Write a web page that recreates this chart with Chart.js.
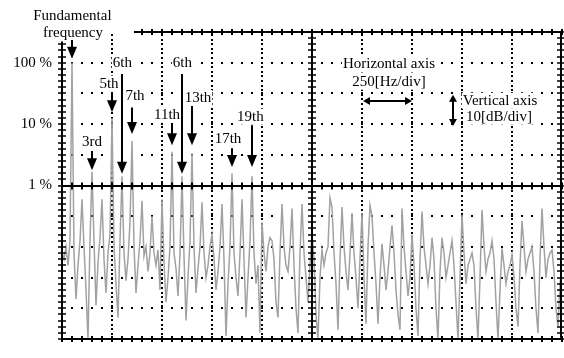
<!DOCTYPE html>
<html>
<head>
<meta charset="utf-8">
<title>Harmonic spectrum</title>
<script src="https://cdn.jsdelivr.net/npm/chart.js@4.4.1/dist/chart.umd.min.js"></script>
<style>
    html, body { margin: 0; padding: 0; background: #fff; }
    #chart { display: block; }
</style>
</head>
<body>
<canvas id="chart" width="564" height="358"></canvas>
<script>
// Spectrum
// level in dB relative to the fundamental (100 % = 0 dB), one sample every 10 Hz from 0 Hz
const stepHz = 10;
const levelDb = [
    -62, -64, -60, -66, -58,
    0, -62, -77, -66, -58,
    -44.5, -60, -74, -90, -58,
    -35.5, -58, -79, -65, -57,
    -44.5, -64, -75, -62, -56,
    -18, -60, -72, -83, -58,
    -37, -62, -71, -64, -52,
    -25.5, -60, -75, -66, -58,
    -45, -63, -60, -68, -62,
    -50, -62, -66, -61, -74,
    -44.5, -65, -78, -70, -60,
    -29, -62, -67, -76, -62,
    -37, -63, -84, -70, -58,
    -29.5, -60, -75, -67, -60,
    -45.5, -62, -70, -66, -60,
    -56, -64, -74, -68, -60,
    -46, -64, -89, -72, -60,
    -36, -62, -70, -76, -62,
    -44.5, -64, -83, -70, -58,
    -37, -62, -72, -66, -88,
    -52, -62, -68, -60, -57,
    -58, -64, -78, -83, -62,
    -46, -60, -66, -68, -60,
    -47.5, -66, -80, -88, -62,
    -46, -62, -70, -78, -66,
    -56, -64, -82, -90, -70,
    -61, -66, -62, -60, -44,
    -47, -62, -72, -87, -64,
    -47, -60, -68, -74, -62,
    -49, -62, -70, -80, -64,
    -49, -70, -85, -60, -46.5,
    -50, -62, -72, -85, -70,
    -59, -66, -74, -68, -60,
    -53, -62, -74, -82, -87,
    -47.5, -60, -68, -76, -70,
    -56, -66, -80, -89, -64,
    -48.5, -60, -66, -72, -66,
    -57, -64, -80, -90, -68,
    -57, -62, -70, -66, -62,
    -58, -66, -78, -90, -70,
    -49.5, -62, -72, -66, -64,
    -62, -66, -80, -90, -70,
    -48, -60, -68, -64, -62,
    -58, -64, -78, -90, -74,
    -60.5, -66, -72, -68, -66,
    -62.5, -70, -80, -86, -66,
    -51.5, -60, -68, -64, -62,
    -60, -68, -80, -88, -64,
    -47.5, -60, -70, -64, -62,
    -61, -68, -80, -86, -72,
    -66
];

// y tick labels, dB -> text
const yTickLabels = { '0': '100 %', '-20': '10 %', '-40': '1 %' };

// screen: 250 Hz/div, 10 dB/div
const freqMin = 0, freqMax = 2500, divHz = 250;
const dbMin = -90, dbMax = 10, divDb = 10;

const points = levelDb.map((db, i) => ({ x: i * stepHz, y: db }));

// callouts: text, label Hz, label dB, arrow Hz, arrow from dB, arrow tip dB
const arrowNotes = [
    ['3rd', 150, -26, 150, -28.8, -35],
    ['5th', 235, -6.8, 250, -9.9, -16.1],
    ['6th', 302, 0, 300, -3.7, -36.2],
    ['7th', 365, -10.8, 350, -14.6, -23.2],
    ['11th', 525, -17, 550, -20.1, -26.9],
    ['6th', 602, 0, 600, -3.7, -36.2],
    ['13th', 680, -11.5, 650, -13.9, -26.9],
    ['17th', 830, -24.8, 850, -27.9, -34],
    ['19th', 942, -17.6, 950, -20.4, -34]
];

const FONT = '15px "Liberation Serif", "Times New Roman", serif';

function label(ctx, text, px, py) {
    const w = ctx.measureText(text).width;
    ctx.fillStyle = '#fff';
    ctx.fillRect(px - w / 2 - 1, py - 8, w + 2, 16);
    ctx.fillStyle = '#000';
    ctx.fillText(text, px, py);
}

function arrowDown(ctx, px, y0, y1) {
    ctx.beginPath();
    ctx.moveTo(px, y0);
    ctx.lineTo(px, y1 - 10);
    ctx.stroke();
    ctx.beginPath();
    ctx.moveTo(px - 5, y1 - 12);
    ctx.lineTo(px + 5, y1 - 12);
    ctx.lineTo(px, y1);
    ctx.closePath();
    ctx.fill();
}

function head(ctx, px, py, dx, dy) {
    // small head pointing along (dx, dy)
    ctx.beginPath();
    ctx.moveTo(px, py);
    ctx.lineTo(px - dx * 7 - dy * 4, py - dy * 7 - dx * 4);
    ctx.lineTo(px - dx * 7 + dy * 4, py - dy * 7 + dx * 4);
    ctx.closePath();
    ctx.fill();
}

const scopeScreen = {
    id: 'scopeScreen',
    beforeDatasetsDraw(chart) {
        const { ctx, chartArea: a, scales: { x, y } } = chart;
        ctx.save();
        ctx.fillStyle = '#000';
        // dotted horizontal divisions
        for (let db = dbMax - divDb; db > dbMin; db -= divDb) {
            if (db === -40) continue;
            const py = Math.round(y.getPixelForValue(db));
            for (let hz = 50; hz < freqMax; hz += 50) {
                ctx.fillRect(Math.round(x.getPixelForValue(hz)) - 1, py - 1, 2, 2);
            }
        }
        // dotted vertical divisions
        for (let hz = divHz; hz < freqMax; hz += divHz) {
            if (hz === 1250) continue;
            const px = Math.round(x.getPixelForValue(hz));
            for (let py = a.top + 3; py < a.bottom; py += 4.6) {
                ctx.fillRect(px - 1, Math.round(py) - 1, 2, 2);
            }
        }
        ctx.restore();
    },
    afterDatasetsDraw(chart) {
        const { ctx, chartArea: a, scales: { x, y } } = chart;
        ctx.save();
        ctx.strokeStyle = '#000';
        ctx.fillStyle = '#000';

        // solid rules with small division ticks
        const vRule = (hz, fromDb) => {
            const px = Math.round(x.getPixelForValue(hz));
            const top = y.getPixelForValue(fromDb);
            ctx.lineWidth = 2;
            ctx.beginPath();
            ctx.moveTo(px, top);
            ctx.lineTo(px, a.bottom);
            ctx.stroke();
            ctx.lineWidth = 1.5;
            for (let db = dbMin; db <= dbMax; db += 2) {
                const py = Math.round(y.getPixelForValue(db));
                if (py < top) continue;
                ctx.beginPath();
                ctx.moveTo(px - 4, py);
                ctx.lineTo(px + 4, py);
                ctx.stroke();
            }
        };
        const hRule = (db, fromHz, tick) => {
            const py = Math.round(y.getPixelForValue(db));
            const left = x.getPixelForValue(fromHz);
            ctx.lineWidth = 2;
            ctx.beginPath();
            ctx.moveTo(left, py);
            ctx.lineTo(a.right, py);
            ctx.stroke();
            ctx.lineWidth = 2;
            for (let hz = 0; hz <= freqMax; hz += 50) {
                const px = Math.round(x.getPixelForValue(hz));
                if (px < left) continue;
                ctx.beginPath();
                ctx.moveTo(px, py - tick);
                ctx.lineTo(px, py + tick);
                ctx.stroke();
            }
        };
        vRule(0, 7);
        vRule(1250, dbMax);
        vRule(2495, dbMax);
        hRule(dbMax, 360, 3);
        hRule(-40, 0, 3.5);
        hRule(dbMin, 0, 3);

        ctx.font = FONT;
        ctx.textAlign = 'center';
        ctx.textBaseline = 'middle';
        ctx.lineWidth = 2;

        // fundamental
        label(ctx, 'Fundamental', x.getPixelForValue(52), y.getPixelForValue(15.2));
        label(ctx, 'frequency', x.getPixelForValue(55), y.getPixelForValue(9.6));
        arrowDown(ctx, Math.round(x.getPixelForValue(50)), y.getPixelForValue(7.4), y.getPixelForValue(1.3));

        arrowNotes.forEach(([text, lHz, lDb, aHz, fromDb, toDb]) => {
            const px = Math.round(x.getPixelForValue(aHz));
            arrowDown(ctx, px, y.getPixelForValue(fromDb), y.getPixelForValue(toDb));
            label(ctx, text, x.getPixelForValue(lHz), y.getPixelForValue(lDb));
        });

        // scale legend
        label(ctx, 'Horizontal axis', x.getPixelForValue(1635), y.getPixelForValue(-0.6));
        label(ctx, '250[Hz/div]', x.getPixelForValue(1635), y.getPixelForValue(-6.2));
        const hy = Math.round(y.getPixelForValue(-12.4));
        const hx0 = x.getPixelForValue(1505), hx1 = x.getPixelForValue(1750);
        ctx.beginPath();
        ctx.moveTo(hx0 + 4, hy);
        ctx.lineTo(hx1 - 4, hy);
        ctx.stroke();
        head(ctx, hx0, hy, -1, 0);
        head(ctx, hx1, hy, 1, 0);

        label(ctx, 'Vertical axis', x.getPixelForValue(2190), y.getPixelForValue(-12.4));
        label(ctx, '10[dB/div]', x.getPixelForValue(2185), y.getPixelForValue(-17.6));
        const vx = Math.round(x.getPixelForValue(1955));
        const vy0 = y.getPixelForValue(-10.4), vy1 = y.getPixelForValue(-20.6);
        ctx.beginPath();
        ctx.moveTo(vx, vy0 + 4);
        ctx.lineTo(vx, vy1 - 4);
        ctx.stroke();
        head(ctx, vx, vy0, 0, -1);
        head(ctx, vx, vy1, 0, 1);

        ctx.restore();
    }
};

const chart = new Chart(document.getElementById('chart'), {
    type: 'line',
    data: {
        datasets: [{
            data: points,
            borderColor: '#a2a2a2',
            borderWidth: 1.5,
            pointRadius: 0,
            tension: 0
        }]
    },
    options: {
        responsive: false,
        animation: false,
        devicePixelRatio: 1,
        layout: { padding: { top: 32, right: 2, bottom: 3, left: 0 } },
        plugins: {
            legend: { display: false },
            tooltip: { enabled: false }
        },
        scales: {
            x: {
                type: 'linear',
                min: freqMin,
                max: freqMax,
                display: false
            },
            y: {
                type: 'linear',
                min: dbMin,
                max: dbMax,
                grid: { display: false, drawTicks: false },
                border: { display: false },
                ticks: {
                    stepSize: divDb,
                    autoSkip: false,
                    padding: 10,
                    color: '#000',
                    font: { family: '"Liberation Serif", "Times New Roman", serif', size: 15 },
                    callback: v => yTickLabels[String(v)] || ''
                },
                afterFit: scale => { scale.width = 62; }
            }
        }
    },
    plugins: [scopeScreen]
});
</script>
</body>
</html>
